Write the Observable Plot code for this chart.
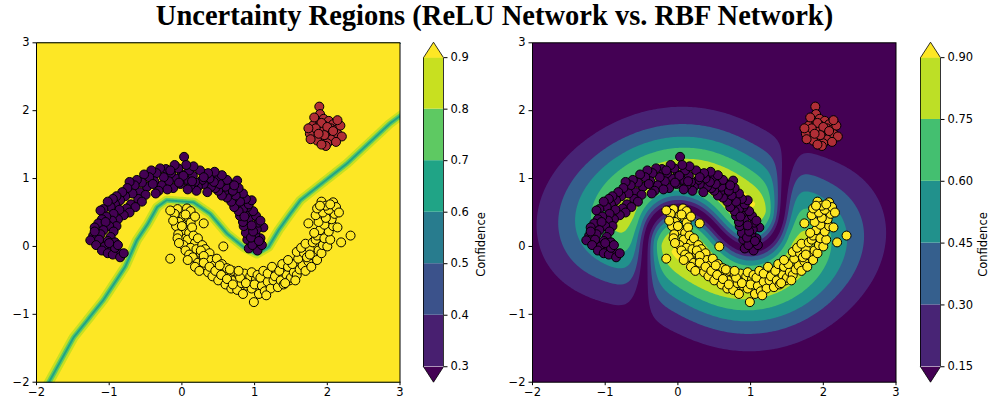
<!DOCTYPE html>
<html><head><meta charset="utf-8">
<script src="https://cdn.jsdelivr.net/npm/d3@7"></script>
<script src="https://cdn.jsdelivr.net/npm/@observablehq/plot@0.6"></script>
<style>
body{margin:0;background:#fff;}
#fig{position:relative;width:989px;height:408px;overflow:hidden;font-family:"DejaVu Sans",sans-serif;}
#fig > div, #fig > svg{position:absolute;}
#title{left:0;top:0;width:989px;height:32px;text-align:center;font:bold 28.5px/32px "Liberation Serif",serif;color:#000;white-space:nowrap;}
</style></head>
<body><div id="fig"><div id="title">Uncertainty Regions (ReLU Network vs. RBF Network)</div></div>
<script>
const xTicks = [-2, -1, 0, 1, 2, 3];
const yTicks = [-2, -1, 0, 1, 2, 3];
const reluLevels = [0.3, 0.4, 0.5, 0.6, 0.7, 0.8, 0.9];
const rbfLevels = [0.15, 0.30, 0.45, 0.60, 0.75, 0.90];

// class 0 (upper moon)
const moon0 = [
[1.04,-0.06],[0.95,0.05],[1.10,0.02],[0.92,-0.03],
[1.08,0.12],[0.90,0.10],[1.01,0.18],[0.97,0.02],
[1.12,0.28],[0.88,0.20],[1.03,0.25],[0.95,0.13],[1.06,0.08],
[0.85,0.30],[1.05,0.35],[0.98,0.22],[0.92,0.40],
[1.02,0.45],[0.84,0.36],[0.96,0.31],[0.88,0.48],[1.08,0.38],
[0.80,0.45],[0.98,0.52],[0.90,0.58],[0.84,0.55],
[0.92,0.62],[0.78,0.52],[0.86,0.44],[0.96,0.68],[0.75,0.62],
[0.72,0.58],[0.88,0.70],[0.80,0.66],[0.70,0.70],
[0.76,0.97],[0.84,0.78],[0.68,0.66],[0.74,0.75],[0.65,0.78],
[0.62,0.72],[0.78,0.86],[0.70,0.82],[0.58,0.80],
[0.66,0.92],[0.55,0.75],[0.60,0.88],[0.72,0.90],[0.50,0.82],
[0.56,0.96],[0.46,0.86],[0.62,0.98],[0.52,0.92],
[0.48,1.02],[0.40,0.88],[0.55,1.05],[0.44,0.95],[0.35,0.80],
[0.38,1.00],[0.30,0.92],[0.45,1.10],[0.33,1.06],
[0.28,0.98],[0.22,0.88],[0.36,1.08],[0.25,1.12],[0.18,0.95],
[0.15,1.04],[0.20,0.82],[0.30,1.02],[0.12,0.90],
[0.10,1.12],[0.05,0.98],[0.16,1.18],[0.08,0.84],[0.14,0.96],
[0.03,1.32],[0.00,1.06],[-0.02,0.92],[0.06,1.20],
[-0.05,1.15],[-0.08,1.00],[0.02,1.04],[-0.12,0.86],[-0.04,0.94],
[-0.15,1.08],[-0.18,0.96],[-0.10,1.20],[-0.22,1.14],
[-0.25,1.02],[-0.28,0.90],[-0.20,0.84],[-0.30,1.15],[-0.16,1.12],
[-0.35,1.08],[-0.38,0.96],[-0.32,0.82],[-0.42,1.12],
[-0.45,1.02],[-0.48,0.88],[-0.40,0.92],[-0.52,1.06],[-0.36,0.78],
[-0.55,0.94],[-0.58,0.80],[-0.50,0.76],[-0.62,0.98],
[-0.65,0.90],[-0.60,0.70],[-0.68,0.78],[-0.55,0.66],[-0.72,0.95],
[-0.75,0.86],[-0.70,0.62],[-0.78,0.74],[-0.64,0.58],
[-0.82,0.80],[-0.76,0.56],[-0.85,0.68],[-0.72,0.50],[-0.90,0.74],
[-0.92,0.62],[-0.80,0.46],[-0.95,0.70],[-0.86,0.54],
[-0.98,0.58],[-1.02,0.66],[-0.88,0.40],[-0.94,0.48],[-1.08,0.55],
[-1.12,0.53],[-0.96,0.38],[-1.04,0.44],[-0.90,0.30],
[-1.10,0.40],[-1.00,0.30],[-0.94,0.22],[-1.15,0.34],[-1.05,0.36],
[-1.20,0.28],[-1.08,0.24],[-0.98,0.14],[-1.12,0.18],
[-1.22,0.16],[-1.02,0.08],[-1.14,0.10],[-0.92,0.06],[-1.26,0.09],
[-1.18,0.02],[-1.06,0.00],[-0.96,-0.04],[-1.10,-0.06],
[-1.02,-0.10],[-0.88,-0.08],[-0.95,-0.12],[-1.20,0.22],
[-0.85,-0.16],[-0.92,-0.02],[-1.00,0.05],
[-0.88,0.02],[-0.80,-0.10]
];

// class 1 (lower moon)
const moon1 = [
[-0.06,0.55],[0.07,0.56],[0.02,0.45],[-0.10,0.48],[0.12,0.52],
[-0.16,0.53],[0.10,0.40],[-0.04,0.36],[0.05,0.47],
[-0.08,0.30],[0.12,0.35],[0.02,0.24],[-0.12,0.38],[0.18,0.44],
[0.10,0.20],[-0.05,0.18],[0.14,0.28],[0.00,0.30],
[0.08,0.10],[-0.06,0.12],[0.16,0.16],[0.30,0.34],[0.02,0.02],
[0.18,0.05],[-0.04,0.05],[0.12,-0.02],[0.22,0.12],
[-0.16,-0.18],[0.05,-0.06],[0.20,-0.04],[0.10,-0.12],[0.28,0.02],
[0.15,-0.16],[0.26,-0.10],[0.08,-0.20],[0.32,-0.04],
[0.22,-0.24],[0.30,-0.18],[0.18,-0.30],[0.38,-0.10],[0.26,-0.06],
[0.34,-0.30],[0.40,-0.20],[0.24,-0.36],[0.30,-0.14],
[0.57,0.00],[0.36,-0.38],[0.44,-0.28],[0.30,-0.24],[0.48,-0.18],
[0.42,-0.44],[0.50,-0.34],[0.38,-0.30],[0.55,-0.26],
[0.50,-0.50],[0.56,-0.40],[0.46,-0.36],[0.62,-0.32],[0.52,-0.28],
[0.60,-0.56],[0.66,-0.46],[0.54,-0.42],[0.70,-0.36],
[0.68,-0.62],[0.72,-0.50],[0.62,-0.48],[0.78,-0.42],[0.66,-0.34],
[0.76,-0.64],[0.82,-0.54],[0.70,-0.56],[0.86,-0.40],
[0.84,-0.70],[0.90,-0.58],[0.80,-0.46],[0.94,-0.44],[0.78,-0.36],
[0.99,-0.82],[0.96,-0.62],[0.88,-0.54],[1.02,-0.48],
[1.06,-0.70],[1.00,-0.56],[0.96,-0.38],[1.10,-0.58],[1.04,-0.42],
[1.14,-0.66],[1.08,-0.46],[1.18,-0.52],[1.12,-0.36],
[1.22,-0.62],[1.18,-0.40],[1.26,-0.50],[1.16,-0.72],[1.30,-0.38],
[1.32,-0.60],[1.28,-0.44],[1.36,-0.50],[1.24,-0.30],
[1.40,-0.56],[1.44,-0.42],[1.34,-0.36],[1.48,-0.50],[1.38,-0.26],
[1.50,-0.46],[1.46,-0.30],[1.54,-0.38],[1.42,-0.54],
[1.58,-0.42],[1.52,-0.26],[1.62,-0.34],[1.46,-0.20],[1.56,-0.50],
[1.66,-0.28],[1.60,-0.18],[1.70,-0.36],[1.58,-0.08],
[1.74,-0.22],[1.68,-0.10],[1.78,-0.30],[1.64,-0.02],[1.72,-0.16],
[1.82,-0.14],[1.76,-0.04],[1.86,-0.20],[1.70,0.04],
[1.88,-0.06],[1.80,0.06],[1.92,-0.10],[1.84,0.10],[1.76,-0.12],
[1.94,0.02],[1.86,0.16],[2.00,0.00],[2.19,0.06],
[1.96,0.12],[1.90,0.24],[2.04,0.10],[1.82,0.20],[2.32,0.16],
[2.02,0.22],[1.74,0.34],[2.08,0.30],[1.96,0.32],
[2.06,0.40],[1.88,0.36],[1.98,0.42],[2.14,0.28],[1.84,0.46],
[2.10,0.48],[1.94,0.50],[2.02,0.54],[1.86,0.56],
[2.08,0.65],[1.92,0.66],[1.98,0.60],[2.12,0.58],
[2.04,0.62],[1.90,0.60],[2.16,0.50]
];

// out-of-distribution cluster
const ood = [
[1.89,2.06],[1.90,1.95],[1.85,1.85],[1.95,1.88],[2.02,1.85],[2.08,1.80],
[1.80,1.78],[1.88,1.76],[1.96,1.78],[2.05,1.74],[2.12,1.72],[1.78,1.70],
[1.86,1.68],[1.94,1.70],[2.02,1.66],[2.10,1.64],[1.82,1.62],[1.90,1.60],
[1.98,1.62],[2.06,1.58],[1.94,1.54],[2.00,1.52],[1.86,1.56],[2.14,1.66],
[1.76,1.66],[1.92,1.82],[2.00,1.76],[1.84,1.74],[2.08,1.70],[1.96,1.64],
[1.88,1.66],[1.98,1.48],[1.92,1.50],[1.74,1.74],[2.18,1.78],[2.20,1.62],
[1.77,1.58],[2.14,1.86],[1.82,1.90],[2.12,1.54]
];

// path of the ReLU network's decision boundary
const reluBoundary = [
[-1.88,-2.1],[-1.49,-1.34],[-1.08,-0.79],[-0.78,-0.30],[-0.62,0.09],[-0.47,0.33],
[-0.34,0.58],[-0.21,0.68],[0.16,0.65],[0.39,0.48],[0.62,0.19],[0.85,-0.01],
[1.03,-0.11],[1.19,-0.01],[1.33,0.24],[1.49,0.48],[1.63,0.68],[2.27,1.22],
[2.86,1.81],[3.1,2.0]
];

const vir = d3.interpolateViridis;
// colours: [under, interval colours..., over]
const reluColors = [vir(0), ...reluLevels.slice(1).map((v,i)=>vir(((v+reluLevels[i])/2-0.3)/0.6)), vir(1)];
const rbfColors = [vir(0), ...rbfLevels.slice(1).map((v,i)=>vir(((v+rbfLevels[i])/2-0.15)/0.75)), vir(1)];
const mids = L => L.slice(1).map((v,i)=>(v+L[i])/2);

function segDist(px,py,ax,ay,bx,by){
  const dx=bx-ax, dy=by-ay;
  let t=((px-ax)*dx+(py-ay)*dy)/(dx*dx+dy*dy);
  t=Math.max(0,Math.min(1,t));
  return Math.hypot(ax+t*dx-px, ay+t*dy-py);
}
function reluConf(x,y){
  let d=Infinity;
  for(let i=0;i<reluBoundary.length-1;i++){
    const a=reluBoundary[i], b=reluBoundary[i+1];
    d=Math.min(d,segDist(x,y,a[0],a[1],b[0],b[1]));
  }
  return 1/(1+Math.exp(-(d+0.02)/0.04));
}
const SIG=0.6, SIGM=0.3, K=0.0112;
function rbfConf(x,y){
  let s0=0,s1=0,t0=0,t1=0;
  const a=1/(2*SIG*SIG), b=1/(2*SIGM*SIGM);
  for(const p of moon0){const d2=(x-p[0])**2+(y-p[1])**2; s0+=Math.exp(-d2*a); t0+=Math.exp(-d2*b);}
  for(const p of moon1){const d2=(x-p[0])**2+(y-p[1])**2; s1+=Math.exp(-d2*a); t1+=Math.exp(-d2*b);}
  const env=Math.min(0.95,K*(s0+s1));
  const m=Math.abs(t0-t1)/(t0+t1+1e-300);
  return env*m;
}

const FS="11.5px";
function panel(field, levels, colors, pixelSize){
  return Plot.plot({
    width:410, height:408, marginLeft:36, marginRight:10.5, marginTop:42.3, marginBottom:26.3,
    style:{fontFamily:"DejaVu Sans", fontSize:FS, color:"black", background:"transparent"},
    x:{domain:[-2,3], ticks:xTicks, tickFormat:d3.format("d"), tickSize:3.5, tickPadding:2, label:null},
    y:{domain:[-2,3], ticks:yTicks, tickFormat:d3.format("d"), tickSize:3.5, tickPadding:3.5, label:null},
    color:{type:"threshold", domain:mids(levels), range:colors.slice(1)},
    marks:[
      Plot.frame({fill:colors[0]}),
      Plot.contour({x1:-2, y1:-2, x2:3, y2:3, fill:field, thresholds:levels, pixelSize, stroke:"none"}),
      Plot.dot(moon0,{x:d=>d[0], y:d=>d[1], r:4.5, fill:"#440154", stroke:"black", strokeWidth:1}),
      Plot.dot(moon1,{x:d=>d[0], y:d=>d[1], r:4.5, fill:"#fde725", stroke:"black", strokeWidth:1}),
      Plot.dot(ood,{x:d=>d[0], y:d=>d[1], r:4.5, fill:"#b02e36", stroke:"black", strokeWidth:1}),
      Plot.frame({stroke:"black", strokeWidth:1})
    ]
  });
}

function colorbar(levels, colors, fmt, width, labelDx){
  const lo=levels[0], hi=levels[levels.length-1], ext=0.05*(hi-lo);
  const bands=levels.slice(0,-1).map((v,i)=>({lo:v, hi:levels[i+1]}));
  const top=[{x:0,y:hi},{x:0.5,y:hi+ext},{x:1,y:hi}];
  const bot=[{x:0,y:lo},{x:0.5,y:lo-ext},{x:1,y:lo}];
  const outline=[{x:0,y:lo},{x:0,y:hi},{x:0.5,y:hi+ext},{x:1,y:hi},{x:1,y:lo},{x:0.5,y:lo-ext},{x:0,y:lo}];
  return Plot.plot({
    width, height:408, marginLeft:10, marginRight:width-30, marginTop:41.7, marginBottom:26.3,
    style:{fontFamily:"DejaVu Sans", fontSize:FS, color:"black", background:"transparent", overflow:"visible"},
    x:{domain:[0,1], axis:null},
    y:{domain:[lo-ext,hi+ext], axis:"right", ticks:levels, tickFormat:fmt, tickSize:3.5, tickPadding:3.5, label:null},
    color:{type:"threshold", domain:mids(levels), range:colors.slice(1)},
    marks:[
      Plot.rect(bands,{x1:0, x2:1, y1:"lo", y2:"hi", fill:"lo"}),
      Plot.line(top,{x:"x", y:"y", fill:colors[colors.length-1], stroke:"none"}),
      Plot.line(bot,{x:"x", y:"y", fill:colors[0], stroke:"none"}),
      Plot.line(outline,{x:"x", y:"y", stroke:"black", strokeWidth:0.8}),
      Plot.text(["Confidence"],{text:d=>d, frameAnchor:"right", dx:labelDx, rotate:-90, fontSize:11.5})
    ]
  });
}

const fig=document.getElementById("fig");
function place(el,left){el.style.left=left+"px"; el.style.top="0px"; fig.appendChild(el);}
place(panel(reluConf, reluLevels, reluColors, 1), 0);
place(colorbar(reluLevels, reluColors, d3.format(".1f"), 90, 38), 413);
place(panel(rbfConf, rbfLevels, rbfColors, 2), 496);
place(colorbar(rbfLevels, rbfColors, d3.format(".2f"), 79, 43), 910);
</script>
</body></html>
